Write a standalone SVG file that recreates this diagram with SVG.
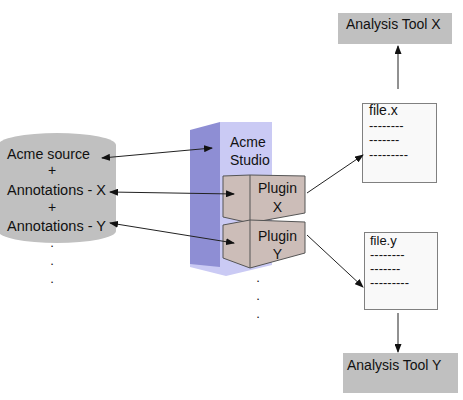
<svg xmlns="http://www.w3.org/2000/svg" width="463" height="400" viewBox="0 0 463 400">
<style>
text{font-family:"Liberation Sans",Arial,sans-serif;font-size:14px;fill:#111}
.doc{fill:#f9f9f9;stroke:#808080;stroke-width:1}
.tool{fill:#c0c0c0}
.plug{fill:#ccbdb8;stroke:#555;stroke-width:1}
.c{stroke:#222;stroke-width:1;fill:none}
.dot{font-size:13px}
</style>
<defs>
<marker id="ah" markerUnits="userSpaceOnUse" markerWidth="9" markerHeight="7" refX="8" refY="3.5" orient="auto-start-reverse">
<path d="M0,0 L9,3.5 L0,7 z" fill="#111"/>
</marker>
</defs>
<rect width="463" height="400" fill="#fff"/>
<g id="source">
<path d="M-2,145 A59,12 0 0 1 116,145 L116,231 A59,12 0 0 1 -2,231 Z" fill="#c0c0c0"/>
<text x="7" y="159" textLength="83" lengthAdjust="spacingAndGlyphs">Acme source</text>
<text x="52" y="175" text-anchor="middle">+</text>
<text x="7" y="195" textLength="99" lengthAdjust="spacingAndGlyphs">Annotations - X</text>
<text x="52" y="212" text-anchor="middle">+</text>
<text x="7" y="231" textLength="99" lengthAdjust="spacingAndGlyphs">Annotations - Y</text>
<text class="dot" x="52" y="247" text-anchor="middle">.</text>
<text class="dot" x="52" y="265" text-anchor="middle">.</text>
<text class="dot" x="52" y="283" text-anchor="middle">.</text>
</g>
<g id="studio">
<polygon points="190,264 220,122 272,122 272,265 226,276 190,267" fill="#cacaf4"/>
<polygon points="190,130 220,122 220,267 190,264" fill="#8e8ed4"/>
<text x="230" y="147">Acme</text>
<text x="230" y="165">Studio</text>
<text class="dot" x="258" y="282" text-anchor="middle">.</text>
<text class="dot" x="258" y="300" text-anchor="middle">.</text>
<text class="dot" x="258" y="318" text-anchor="middle">.</text>
</g>
<g id="pluginX">
<polygon class="plug" points="223,176 250,175 305,176 305,213 250,223 223,217"/>
<line class="plug" x1="250" y1="175" x2="250" y2="223"/>
<text x="277.5" y="193" text-anchor="middle">Plugin</text>
<text x="277.5" y="212" text-anchor="middle">X</text>
</g>
<g id="pluginY">
<polygon class="plug" points="223,225 250,220 305,222 305,253 250,268 223,258"/>
<line class="plug" x1="250" y1="220" x2="250" y2="268"/>
<text x="277.5" y="241" text-anchor="middle">Plugin</text>
<text x="277.5" y="259" text-anchor="middle">Y</text>
</g>
<g id="fileX">
<rect class="doc" x="362.5" y="103.5" width="74" height="79"/>
<text x="369" y="115" font-size="13">file.x</text>
<text x="369" y="130" style="font-size:13px">--------</text>
<text x="369" y="144" style="font-size:13px">-------</text>
<text x="369" y="159" style="font-size:13px">---------</text>
</g>
<g id="fileY">
<rect class="doc" x="364.5" y="232.5" width="73" height="77"/>
<text x="370" y="245" style="font-size:13px">file.y</text>
<text x="370" y="259" style="font-size:13px">--------</text>
<text x="370" y="273" style="font-size:13px">-------</text>
<text x="370" y="287" style="font-size:13px">---------</text>
</g>
<g id="toolX">
<rect class="tool" x="338" y="13" width="114" height="31"/>
<text x="346" y="29">Analysis Tool X</text>
</g>
<g id="toolY">
<rect class="tool" x="343" y="353" width="115" height="40"/>
<text x="347" y="370">Analysis Tool Y</text>
</g>
<g id="connectors">
<line class="c" x1="102" y1="158" x2="212" y2="148" marker-start="url(#ah)" marker-end="url(#ah)"/>
<line class="c" x1="110" y1="192" x2="234" y2="194" marker-start="url(#ah)" marker-end="url(#ah)"/>
<line class="c" x1="110" y1="223" x2="234" y2="243" marker-start="url(#ah)" marker-end="url(#ah)"/>
<line class="c" x1="307" y1="193" x2="363" y2="155" marker-end="url(#ah)"/>
<line class="c" x1="307" y1="235" x2="363" y2="287" marker-end="url(#ah)"/>
<line class="c" x1="398" y1="89" x2="398" y2="46" marker-end="url(#ah)"/>
<line class="c" x1="398" y1="313" x2="398" y2="352" marker-end="url(#ah)"/>
</g>
</svg>
